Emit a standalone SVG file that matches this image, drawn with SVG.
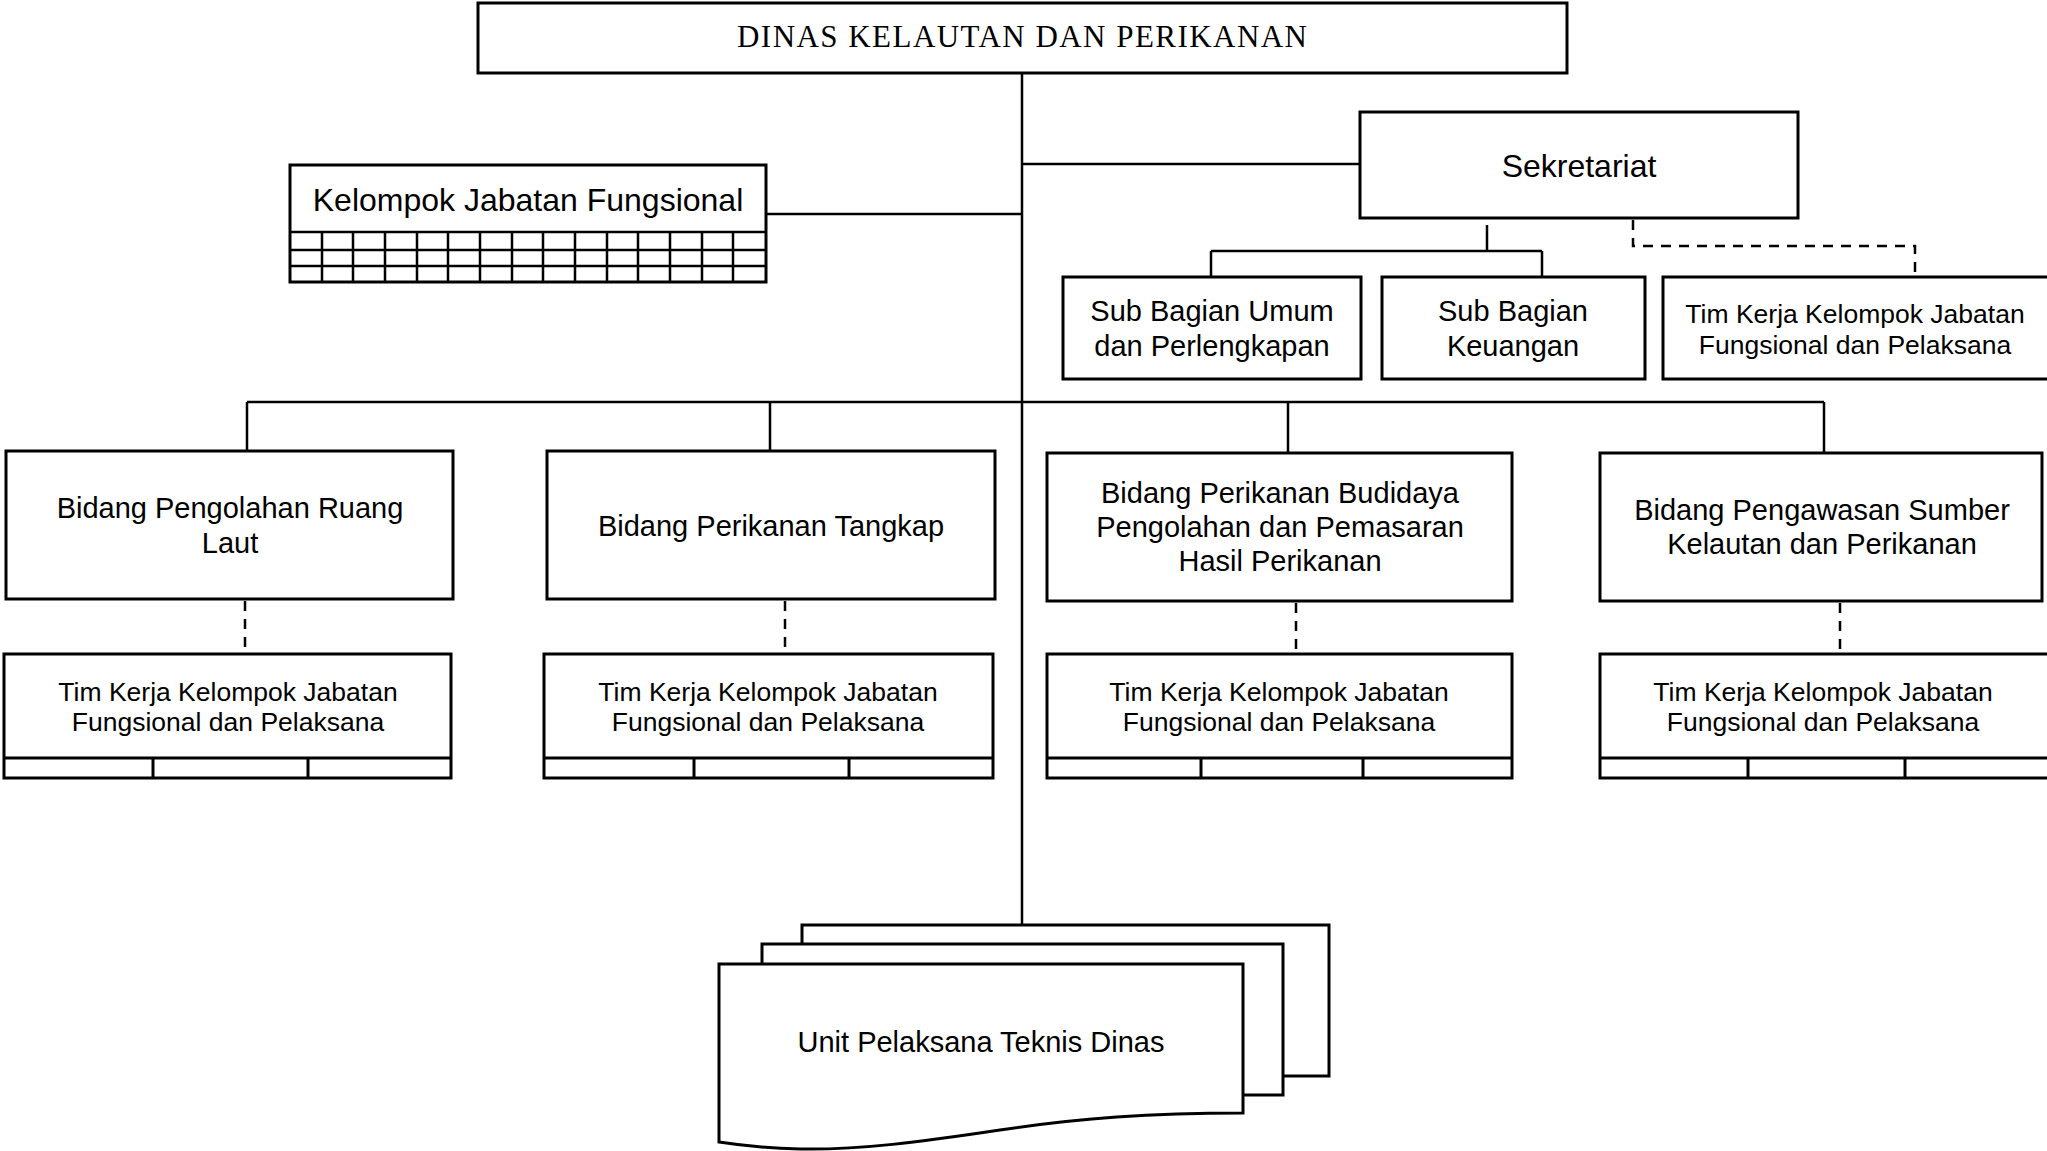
<svg xmlns="http://www.w3.org/2000/svg" width="2047" height="1151" viewBox="0 0 2047 1151">
  <style>
    .box { fill: #fff; stroke: #000; stroke-width: 3; }
    .grid { fill: none; stroke: #000; stroke-width: 2.5; }
    .line { fill: none; stroke: #000; stroke-width: 2.5; }
    .dash { fill: none; stroke: #000; stroke-width: 2.5; stroke-dasharray: 10 8; }
    .t { font-family: "Liberation Sans", Arial, sans-serif; fill: #000; text-anchor: middle; }
    .t32 { font-size: 32px; }
    .t29 { font-size: 29px; }
    .t26 { font-size: 26.5px; }
    .title { font-family: "Liberation Serif", "Times New Roman", serif; font-size: 31px; fill: #000; text-anchor: middle; }
  </style>

  <rect width="2047" height="1151" fill="#fff"/>

  <!-- connectors -->
  <g id="connectors">
    <path class="line" d="M1022 73 V925"/>
    <path class="line" d="M1022 164 H1360"/>
    <path class="line" d="M766 214 H1022"/>
    <path class="line" d="M1487 225 V251 M1211 251 H1542 M1211 251 V277 M1542 251 V277"/>
    <path class="dash" d="M1633 220 V246 H1915 V277"/>
    <path class="line" d="M247 402 H1824 M247 402 V451 M770 402 V451 M1288 402 V453 M1824 402 V453"/>
    <path class="dash" d="M245 601 V654"/>
    <path class="dash" d="M785 601 V654"/>
    <path class="dash" d="M1296 603 V654"/>
    <path class="dash" d="M1840 603 V654"/>
  </g>

  <!-- head of office -->
  <g id="node-dinas">
    <rect class="box" x="478" y="3" width="1089" height="70"/>
    <text class="title" x="1022" y="47" textLength="570" lengthAdjust="spacing">DINAS KELAUTAN DAN PERIKANAN</text>
  </g>

  <!-- functional group with grid -->
  <g id="node-kjf">
    <rect class="box" x="290" y="165" width="476" height="117"/>
    <path class="grid" d="M290 232 H766 M290 250 H766 M290 266 H766
      M322 232 V282 M353 232 V282 M385 232 V282 M417 232 V282 M448 232 V282
      M480 232 V282 M512 232 V282 M543 232 V282 M575 232 V282 M607 232 V282
      M638 232 V282 M670 232 V282 M702 232 V282 M733 232 V282"/>
    <text class="t t32" x="528" y="211">Kelompok Jabatan Fungsional</text>
  </g>

  <g id="node-sekretariat">
    <rect class="box" x="1360" y="112" width="438" height="106"/>
    <text class="t t32" x="1579" y="177">Sekretariat</text>
  </g>

  <g id="node-subbag-umum">
    <rect class="box" x="1063" y="277" width="298" height="102"/>
    <text class="t t29" x="1212" y="321">Sub Bagian Umum</text>
    <text class="t t29" x="1212" y="356">dan Perlengkapan</text>
  </g>

  <g id="node-subbag-keuangan">
    <rect class="box" x="1382" y="277" width="263" height="102"/>
    <text class="t t29" x="1513" y="321">Sub Bagian</text>
    <text class="t t29" x="1513" y="356">Keuangan</text>
  </g>

  <g id="node-timkerja-sek">
    <rect class="box" x="1663" y="277" width="390" height="102"/>
    <text class="t t26" x="1855" y="323">Tim Kerja Kelompok Jabatan</text>
    <text class="t t26" x="1855" y="354">Fungsional dan Pelaksana</text>
  </g>

  <!-- fields -->
  <g id="node-bidang-prl">
    <rect class="box" x="6" y="451" width="447" height="148"/>
    <text class="t t29" x="230" y="518">Bidang Pengolahan Ruang</text>
    <text class="t t29" x="230" y="553">Laut</text>
  </g>

  <g id="node-bidang-pt">
    <rect class="box" x="547" y="451" width="448" height="148"/>
    <text class="t t29" x="771" y="536">Bidang Perikanan Tangkap</text>
  </g>

  <g id="node-bidang-pb">
    <rect class="box" x="1047" y="453" width="465" height="148"/>
    <text class="t t29" x="1280" y="503">Bidang Perikanan Budidaya</text>
    <text class="t t29" x="1280" y="537">Pengolahan dan Pemasaran</text>
    <text class="t t29" x="1280" y="571">Hasil Perikanan</text>
  </g>

  <g id="node-bidang-ps">
    <rect class="box" x="1600" y="453" width="442" height="148"/>
    <text class="t t29" x="1822" y="520">Bidang Pengawasan Sumber</text>
    <text class="t t29" x="1822" y="554">Kelautan dan Perikanan</text>
  </g>

  <!-- work teams under each field -->
  <g id="node-timkerja-1">
    <rect class="box" x="4" y="654" width="447" height="124"/>
    <path class="box" d="M4 758 H451 M153 758 V778 M308 758 V778"/>
    <text class="t t26" x="228" y="701">Tim Kerja Kelompok Jabatan</text>
    <text class="t t26" x="228" y="731">Fungsional dan Pelaksana</text>
  </g>

  <g id="node-timkerja-2">
    <rect class="box" x="544" y="654" width="449" height="124"/>
    <path class="box" d="M544 758 H993 M694 758 V778 M849 758 V778"/>
    <text class="t t26" x="768" y="701">Tim Kerja Kelompok Jabatan</text>
    <text class="t t26" x="768" y="731">Fungsional dan Pelaksana</text>
  </g>

  <g id="node-timkerja-3">
    <rect class="box" x="1047" y="654" width="465" height="124"/>
    <path class="box" d="M1047 758 H1512 M1201 758 V778 M1363 758 V778"/>
    <text class="t t26" x="1279" y="701">Tim Kerja Kelompok Jabatan</text>
    <text class="t t26" x="1279" y="731">Fungsional dan Pelaksana</text>
  </g>

  <g id="node-timkerja-4">
    <rect class="box" x="1600" y="654" width="450" height="124"/>
    <path class="box" d="M1600 758 H2050 M1748 758 V778 M1905 758 V778"/>
    <text class="t t26" x="1823" y="701">Tim Kerja Kelompok Jabatan</text>
    <text class="t t26" x="1823" y="731">Fungsional dan Pelaksana</text>
  </g>

  <!-- technical units: stacked document sheets -->
  <g id="node-upt">
    <rect class="box" x="802" y="925" width="527" height="151"/>
    <rect class="box" x="762" y="944" width="521" height="151"/>
    <path class="box" d="M719 964 H1243 V1113 C1150 1113 1080 1118 1000 1130 C920 1142 860 1150 800 1149 C765 1148 738 1145 719 1142 Z"/>
    <text class="t t29" x="981" y="1052">Unit Pelaksana Teknis Dinas</text>
  </g>
</svg>
